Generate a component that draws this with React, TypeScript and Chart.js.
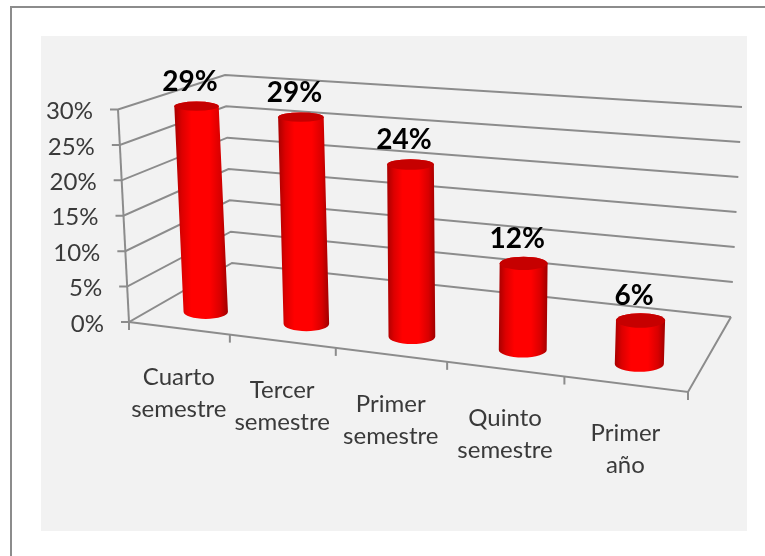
import React, { useEffect, useRef } from "react";
import { Chart, registerables } from "chart.js";

Chart.register(...registerables);

const categories = [
  ["Cuarto", "semestre"],
  ["Tercer", "semestre"],
  ["Primer", "semestre"],
  ["Quinto", "semestre"],
  ["Primer", "año"],
];
const shares = [29, 29, 24, 12, 6];
const axisMax = 30;
const axisStep = 5;

type Pt = { x: number; y: number };

// Corners of the floor in canvas space: u runs along the categories, w into the depth.
const FL: Pt = { x: 129, y: 322 };
const FR: Pt = { x: 688, y: 392 };
const BR: Pt = { x: 731, y: 317 };
const BL: Pt = { x: 232, y: 263 };
const AXIS_RISE_FRONT: Pt = { x: -11, y: -212.5 };
const WALL_RISE_LEFT: Pt = { x: -7, y: -188 };
const WALL_RISE_RIGHT: Pt = { x: 11, y: -210 };
const BAR_RISE_LEFT: Pt = { x: -11.5, y: -212 };
const BAR_RISE_RIGHT: Pt = { x: 8, y: -218 };
const BAR_DEPTH = 0.25;

const GRID = "#8c8c8c";
const LABEL = "#3a3a3a";
const FONT = "Lato, 'Open Sans', sans-serif";

function floorProjector() {
  const [x0, y0, x1, y1, x2, y2, x3, y3] = [FL.x, FL.y, FR.x, FR.y, BR.x, BR.y, BL.x, BL.y];
  const dx1 = x1 - x2, dx2 = x3 - x2, dx3 = x0 - x1 + x2 - x3;
  const dy1 = y1 - y2, dy2 = y3 - y2, dy3 = y0 - y1 + y2 - y3;
  const den = dx1 * dy2 - dx2 * dy1;
  const g = (dx3 * dy2 - dx2 * dy3) / den;
  const h = (dx1 * dy3 - dx3 * dy1) / den;
  const a = x1 - x0 + g * x1, b = x3 - x0 + h * x3;
  const d = y1 - y0 + g * y1, e = y3 - y0 + h * y3;
  return (u: number, w: number): Pt => {
    const q = g * u + h * w + 1;
    return { x: (a * u + b * w + x0) / q, y: (d * u + e * w + y0) / q };
  };
}
const floor = floorProjector();

const mix = (p: Pt, q: Pt, t: number): Pt => ({ x: p.x + (q.x - p.x) * t, y: p.y + (q.y - p.y) * t });
const offset = (p: Pt, r: Pt, v: number): Pt => ({ x: p.x + r.x * v, y: p.y + r.y * v });

function line(ctx: CanvasRenderingContext2D, pts: Pt[]) {
  ctx.beginPath();
  pts.forEach((p, i) => (i ? ctx.lineTo(p.x, p.y) : ctx.moveTo(p.x, p.y)));
  ctx.stroke();
}

// Gray sheet, page rules, the three walls, both axes and their labels.
const wallsPlugin = {
  id: "walls",
  beforeDatasetsDraw(chart: any) {
    const { ctx, scales } = chart;
    const { x: xs, y: ys } = scales;
    ctx.save();
    ctx.fillStyle = "#ffffff";
    ctx.fillRect(0, 0, chart.width, chart.height);
    ctx.strokeStyle = "#8c8c8c";
    ctx.lineWidth = 2;
    line(ctx, [{ x: 11, y: chart.height }, { x: 11, y: 7 }, { x: chart.width, y: 7 }]);
    ctx.fillStyle = "#f2f2f2";
    ctx.fillRect(41, 36, 706, 495);

    ctx.strokeStyle = GRID;
    ctx.lineWidth = 2;
    ctx.textAlign = "right";
    ctx.textBaseline = "middle";
    ctx.font = `24px ${FONT}`;
    ys.ticks.forEach((t: any) => {
      const v = (ys.bottom - ys.getPixelForValue(t.value)) / (ys.bottom - ys.top);
      const front = offset(FL, AXIS_RISE_FRONT, v);
      const back = offset(BL, WALL_RISE_LEFT, v);
      const right = offset(BR, WALL_RISE_RIGHT, v);
      line(ctx, [{ x: front.x - 8, y: front.y }, front, back, right]);
      ctx.fillStyle = LABEL;
      ctx.fillText(`${t.value}%`, front.x - 25, front.y + 2);
    });
    line(ctx, [offset(FL, AXIS_RISE_FRONT, 1), FL]);
    line(ctx, [FL, FR, BR]);

    const n = categories.length;
    for (let i = 0; i <= n; i++) {
      const p = floor(i / n, 0);
      line(ctx, [p, { x: p.x, y: p.y + 8 }]);
    }
    ctx.textAlign = "center";
    ctx.fillStyle = LABEL;
    categories.forEach((lines, i) => {
      const u = (xs.getPixelForValue(i) - xs.left) / (xs.right - xs.left);
      const p = floor(u, 0);
      lines.forEach((s, k) => ctx.fillText(s, p.x, p.y + 49 + k * 32));
    });
    ctx.restore();
  },
  // Each bar becomes a cylinder standing on the floor, sized from its own element.
  afterDatasetsDraw(chart: any) {
    const { ctx, scales } = chart;
    const { x: xs, y: ys } = scales;
    const meta = chart.getDatasetMeta(0);
    const span = xs.right - xs.left;
    ctx.save();
    meta.data.forEach((bar: any, i: number) => {
      const u = (bar.x - xs.left) / span;
      const v = (ys.bottom - bar.y) / (ys.bottom - ys.top);
      const base = floor(u, BAR_DEPTH);
      const rise = mix(BAR_RISE_LEFT, BAR_RISE_RIGHT, u);
      const top = offset(base, rise, v);
      const hw = (bar.width / 2) * (0.89 + 0.12 * u);
      const hhTop = 4.6 + (top.y - 108) * 0.0127;
      const hhBase = 4.6 + (base.y - 108) * 0.0127;

      const left = Math.min(top.x, base.x) - hw;
      const right = Math.max(top.x, base.x) + hw;
      const shade = ctx.createLinearGradient(left, 0, right, 0);
      shade.addColorStop(0, "#a80000");
      shade.addColorStop(0.14, "#dc0000");
      shade.addColorStop(0.32, "#ff0000");
      shade.addColorStop(0.66, "#ff0000");
      shade.addColorStop(0.86, "#d80000");
      shade.addColorStop(1, "#a00000");

      ctx.beginPath();
      ctx.moveTo(top.x - hw, top.y);
      ctx.lineTo(base.x - hw, base.y);
      ctx.ellipse(base.x, base.y, hw, hhBase, 0, Math.PI, 0, true);
      ctx.lineTo(top.x + hw, top.y);
      ctx.ellipse(top.x, top.y, hw, hhTop, 0, 0, Math.PI, true);
      ctx.closePath();
      ctx.fillStyle = shade;
      ctx.fill();

      ctx.beginPath();
      ctx.ellipse(top.x, top.y, hw, hhTop, 0, 0, Math.PI * 2);
      ctx.fillStyle = "#c60000";
      ctx.fill();

      ctx.fillStyle = "#000000";
      ctx.font = `bold 28px ${FONT}`;
      ctx.textAlign = "center";
      ctx.textBaseline = "middle";
      ctx.fillText(`${shares[i]}%`, top.x - 6.5, top.y - 24.5);
    });
    ctx.restore();
  },
};

export default function App() {
  const ref = useRef<HTMLCanvasElement>(null);
  useEffect(() => {
    const chart = new Chart(ref.current!, {
      type: "bar",
      data: {
        labels: categories.map((c) => c.join(" ")),
        datasets: [
          {
            data: shares,
            backgroundColor: "rgba(0,0,0,0)",
            barPercentage: 0.44,
            categoryPercentage: 1,
          },
        ],
      },
      options: {
        animation: false,
        responsive: false,
        layout: { padding: { left: FL.x, right: 765 - FR.x, top: 110, bottom: 556 - FL.y } },
        plugins: { legend: { display: false }, tooltip: { enabled: false } },
        scales: {
          x: { display: false },
          y: { display: false, min: 0, max: axisMax, ticks: { stepSize: axisStep } },
        },
      },
      plugins: [wallsPlugin],
    });
    return () => chart.destroy();
  }, []);
  return (
    <div style={{ position: "absolute", left: 0, top: 0, width: 765, height: 556 }}>
      <canvas ref={ref} width={765} height={556} style={{ display: "block" }} />
    </div>
  );
}
